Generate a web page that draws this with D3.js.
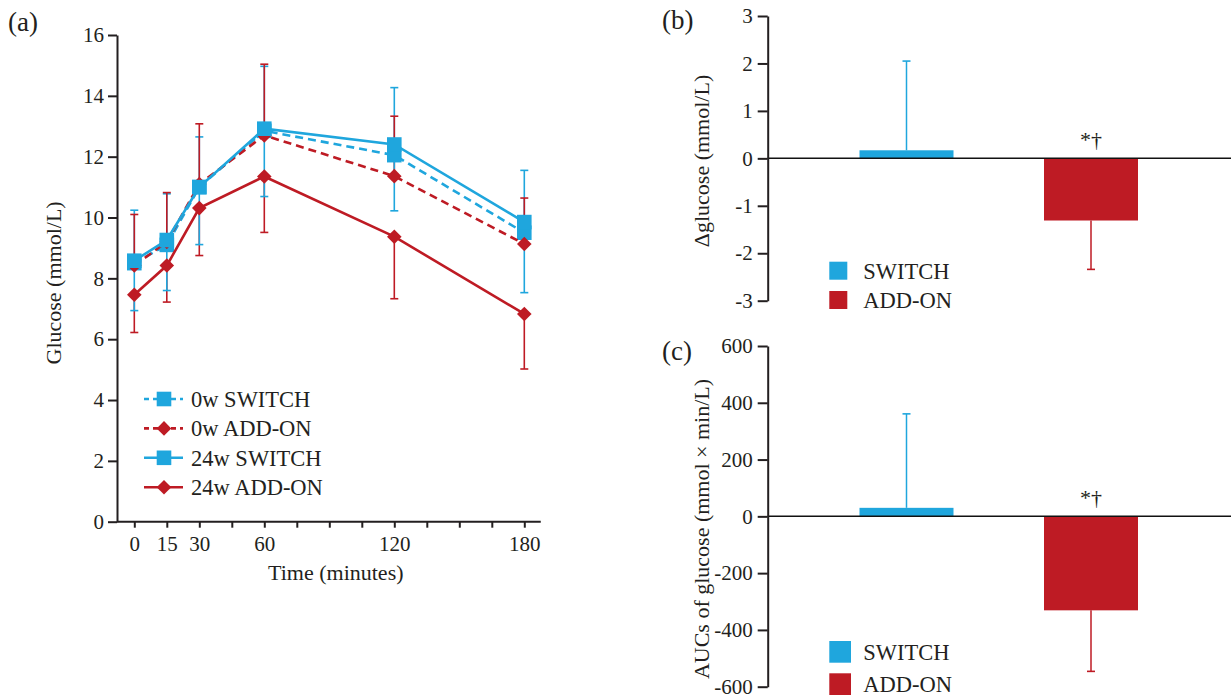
<!DOCTYPE html>
<html>
<head>
<meta charset="utf-8">
<script src="https://cdn.jsdelivr.net/npm/d3@7"></script>
<style>
  body { margin: 0; background: #fff; }
  svg text { font-family: "Liberation Serif", "Times New Roman", serif; fill: #231f20; }
</style>
</head>
<body>
<svg id="chart" width="1231" height="698"></svg>
<script>
// ---- data ----
const times = [0, 15, 30, 60, 120, 180];
const labelledTimes = [0, 15, 30, 60, 120, 180];

const sw0 = [8.5, 9.1, 11.0, 12.85, 12.05, 9.5];
const sw0Upper = [10.24, 10.78, 12.65, 14.97, 14.27, 11.55];
const ad0 = [8.42, 9.2, 11.1, 12.7, 11.36, 9.13];
const ad0Upper = [10.1, 10.82, 13.08, 15.04, 13.33, 10.64];
const sw24 = [8.58, 9.26, 11.0, 12.92, 12.4, 9.85];
const sw24Lower = [6.94, 7.6, 9.11, 10.69, 10.22, 7.53];
const ad24 = [7.46, 8.42, 10.31, 11.35, 9.37, 6.83];
const ad24Lower = [6.22, 7.22, 8.75, 9.51, 7.33, 5.02];

const groups = ["SWITCH", "ADD-ON"];
const deltaGlucose = [0.17, -1.31];
const deltaErr = [2.05, -2.34];
const aucGlucose = [30, -331];
const aucErr = [361, -546];

const BLUE = "#1fa6dd", RED = "#be1b24", INK = "#231f20";

const svg = d3.select("#chart");

// ---------------- panel (a) ----------------
const xA = d3.scaleLinear().domain([0, 180]).range([134.3, 524.3]);
const yA = d3.scaleLinear().domain([0, 16]).range([521.7, 35]);
const axisXA = 117;

const gA = svg.append("g");

// y axis
gA.append("g")
    .attr("transform", `translate(${axisXA},0)`)
    .call(d3.axisLeft(yA).tickValues(d3.range(0, 17, 2)).tickSize(9).tickPadding(4).tickSizeOuter(0))
    .call(g => g.selectAll("text").style("font-size", "21px").attr("fill", INK))
    .call(g => g.selectAll("line, path").attr("stroke", INK).attr("stroke-width", 2));

// x axis
gA.append("g")
    .attr("transform", `translate(0,${yA(0)})`)
    .call(d3.axisBottom(xA).tickValues(d3.range(0, 181, 15)).tickSize(6).tickPadding(8)
        .tickFormat(d => labelledTimes.includes(d) ? d : ""))
    .call(g => g.select(".domain").remove())
    .call(g => g.selectAll("text").style("font-size", "21px").attr("fill", INK))
    .call(g => g.selectAll("line").attr("stroke", INK).attr("stroke-width", 2));

gA.append("line")
    .attr("x1", axisXA).attr("x2", xA(187.6))
    .attr("y1", yA(0)).attr("y2", yA(0))
    .attr("stroke", INK).attr("stroke-width", 2);

gA.append("text")
    .attr("x", xA(93)).attr("y", 580)
    .attr("text-anchor", "middle")
    .style("font-size", "22px")
    .text("Time (minutes)");

gA.append("text")
    .attr("transform", `translate(60.5,${yA(7.85)}) rotate(-90)`)
    .attr("text-anchor", "middle")
    .style("font-size", "22px")
    .text("Glucose (mmol/L)");

svg.append("text").attr("x", 8).attr("y", 31).style("font-size", "27px").text("(a)");

const diamond = s => `M0,${-s}L${s},0L0,${s}L${-s},0Z`;

const series = [
    { name: "0w SWITCH", vals: sw0, err: sw0Upper, color: BLUE, dash: "8,5", shape: "square" },
    { name: "0w ADD-ON", vals: ad0, err: ad0Upper, color: RED, dash: "8,5", shape: "diamond" },
    { name: "24w SWITCH", vals: sw24, err: sw24Lower, color: BLUE, dash: null, shape: "square" },
    { name: "24w ADD-ON", vals: ad24, err: ad24Lower, color: RED, dash: null, shape: "diamond" }
];
const drawOrder = [0, 1, 3, 2];

// error bars
drawOrder.forEach(i => {
    const s = series[i];
    const pts = times.map((t, j) => ({ t, v: s.vals[j], e: s.err[j] }));
    const eb = gA.append("g").attr("stroke", s.color).attr("stroke-width", 1.6);
    eb.selectAll("line.v").data(pts).join("line").attr("class", "v")
        .attr("x1", d => xA(d.t)).attr("x2", d => xA(d.t))
        .attr("y1", d => yA(d.v)).attr("y2", d => yA(d.e));
    eb.selectAll("line.c").data(pts).join("line").attr("class", "c")
        .attr("x1", d => xA(d.t) - 4).attr("x2", d => xA(d.t) + 4)
        .attr("y1", d => yA(d.e)).attr("y2", d => yA(d.e));
});

// lines + markers
drawOrder.forEach(i => {
    const s = series[i];
    const pts = times.map((t, j) => ({ t, v: s.vals[j] }));
    const line = d3.line().x(d => xA(d.t)).y(d => yA(d.v));
    gA.append("path").datum(pts)
        .attr("d", line)
        .attr("fill", "none")
        .attr("stroke", s.color)
        .attr("stroke-width", 2.6)
        .attr("stroke-dasharray", s.dash);
    const m = gA.append("g").selectAll("path").data(pts).join("path")
        .attr("transform", d => `translate(${xA(d.t)},${yA(d.v)})`)
        .attr("fill", s.color);
    if (s.shape === "square") m.attr("d", "M-7.3,-7.3H7.3V7.3H-7.3Z");
    else m.attr("d", diamond(7.3));
});

// legend (a)
const legA = gA.append("g").attr("transform", "translate(144,399)");
series.forEach((s, i) => {
    const row = legA.append("g").attr("transform", `translate(0,${i * 29.4})`);
    row.append("line").attr("x1", 0).attr("x2", 39)
        .attr("stroke", s.color).attr("stroke-width", 2.6)
        .attr("stroke-dasharray", s.dash ? "5,4" : null);
    row.append("path")
        .attr("transform", "translate(20,0)")
        .attr("d", s.shape === "square" ? "M-7.3,-7.3H7.3V7.3H-7.3Z" : diamond(7.3))
        .attr("fill", s.color);
    row.append("text").attr("x", 47).attr("y", 8).style("font-size", "22.5px").text(s.name);
});

// ---------------- panels (b) and (c) ----------------
const axisXB = 767.7;
const xB = d3.scalePoint().domain(groups).range([906.5, 1091]);
const barW = 94;
const colors = [BLUE, RED];

function barPanel(opts) {
    const { y, vals, errs, ticks, label, tag, tagY, legY, legSize, legGap, legBase } = opts;
    const g = svg.append("g");

    // bars
    g.selectAll("rect.bar").data(groups).join("rect").attr("class", "bar")
        .attr("x", d => xB(d) - barW / 2)
        .attr("width", barW)
        .attr("y", (d, i) => Math.min(y(vals[i]), y(0)))
        .attr("height", (d, i) => Math.abs(y(vals[i]) - y(0)))
        .attr("fill", (d, i) => colors[i]);

    // error bars
    const eb = g.append("g");
    eb.selectAll("line.v").data(groups).join("line").attr("class", "v")
        .attr("x1", d => xB(d)).attr("x2", d => xB(d))
        .attr("y1", (d, i) => y(vals[i])).attr("y2", (d, i) => y(errs[i]))
        .attr("stroke", (d, i) => colors[i]).attr("stroke-width", 1.5);
    eb.selectAll("line.c").data(groups).join("line").attr("class", "c")
        .attr("x1", d => xB(d) - 4).attr("x2", d => xB(d) + 4)
        .attr("y1", (d, i) => y(errs[i])).attr("y2", (d, i) => y(errs[i]))
        .attr("stroke", (d, i) => colors[i]).attr("stroke-width", 1.6);

    // zero line
    g.append("line")
        .attr("x1", axisXB).attr("x2", 1231)
        .attr("y1", y(0)).attr("y2", y(0))
        .attr("stroke", "#111").attr("stroke-width", 1.5);

    // significance mark
    g.append("text")
        .attr("x", xB("ADD-ON")).attr("y", y(0) - 11)
        .attr("text-anchor", "middle")
        .style("font-size", "22px")
        .text("*†");

    // y axis
    g.append("g")
        .attr("transform", `translate(${axisXB},0)`)
        .call(d3.axisLeft(y).tickValues(ticks).tickSize(10).tickPadding(5).tickSizeOuter(0)
            .tickFormat(d => String(d)))
        .call(a => a.selectAll("text").style("font-size", "21px").attr("fill", INK))
        .call(a => a.selectAll("line, path").attr("stroke", INK).attr("stroke-width", 2));

    g.append("text")
        .attr("transform", `translate(709,${label.cy}) rotate(-90)`)
        .attr("text-anchor", "middle")
        .style("font-size", "22px")
        .text(label.text);

    svg.append("text").attr("x", 662).attr("y", tagY).style("font-size", "27px").text(tag);

    // legend
    groups.forEach((name, i) => {
        g.append("rect")
            .attr("x", 829.3).attr("y", legY + i * legGap)
            .attr("width", legSize).attr("height", legSize)
            .attr("fill", colors[i]);
        g.append("text")
            .attr("x", 863.3).attr("y", legBase + i * legGap)
            .style("font-size", "22.5px")
            .text(name);
    });
}

barPanel({
    y: d3.scaleLinear().domain([-3, 3]).range([300.7, 16]),
    vals: deltaGlucose, errs: deltaErr,
    ticks: d3.range(-3, 4),
    label: { text: "Δglucose (mmol/L)", cy: 161 },
    tag: "(b)", tagY: 29,
    legY: 261.7, legSize: 18, legGap: 29.3, legBase: 278.5
});

barPanel({
    y: d3.scaleLinear().domain([-600, 600]).range([686.7, 346]),
    vals: aucGlucose, errs: aucErr,
    ticks: d3.range(-600, 601, 200),
    label: { text: "AUCs of glucose (mmol × min/L)", cy: 529 },
    tag: "(c)", tagY: 360,
    legY: 641, legSize: 21.7, legGap: 32.3, legBase: 659.5
});
</script>
</body>
</html>
